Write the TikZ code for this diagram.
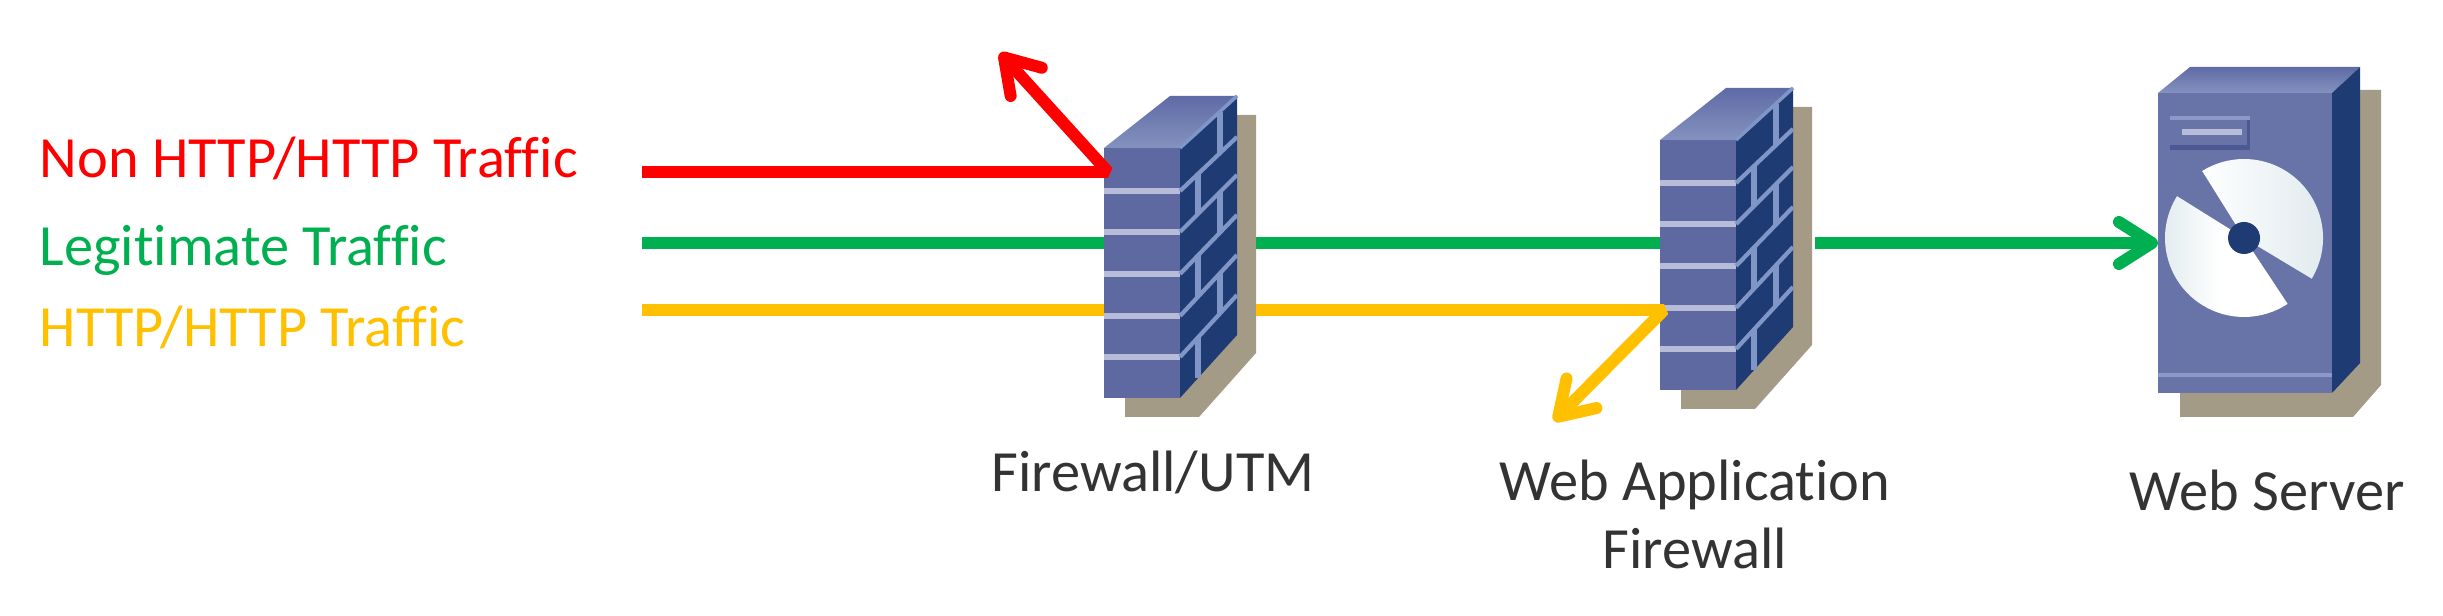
\documentclass[tikz,border=0pt]{standalone}
\usepackage{fontspec}
\setmainfont[Ligatures=NoCommon]{Carlito}
\usetikzlibrary{arrows.meta}
\definecolor{wallfront}{HTML}{5E69A1}
\definecolor{wallside}{HTML}{1F3B73}
\definecolor{walltop}{HTML}{8492BF}
\definecolor{walltopb}{HTML}{5F6BA5}
\definecolor{mortar}{HTML}{B7BDD8}
\definecolor{mortarb}{HTML}{7F96C6}
\definecolor{wallshadow}{HTML}{A39B85}
\definecolor{srvfront}{HTML}{6873A8}
\definecolor{srvline}{HTML}{8A9AC8}
\definecolor{srvdark}{HTML}{4C5894}
\definecolor{discb}{HTML}{DFE9ED}
\definecolor{trafred}{HTML}{FF0000}
\definecolor{trafgreen}{HTML}{00B050}
\definecolor{trafamber}{HTML}{FFC000}
\tikzset{
	lbl/.style={font=\fontsize{16.6pt}{20pt}\selectfont,inner sep=0pt,text=black!80},
	trafficline/.style={line width=3.4pt,line join=bevel},
	barb/.style={-{Straight Barb[round,length=3.3mm,width=4.2mm]}},
	boxoutline/.style={inner sep=0pt,outer sep=0pt},
	pics/brickwall/.style={code={
		\fill[wallshadow] (133,-33)--(152,-33)--(152,205)--(95,269)--(21,269)--(21,250)--(76,250)--cycle;
		\fill[wallfront] (0,0) rectangle (76,250);
		\shade[top color=walltopb,bottom color=walltop] (0,0)--(66,-52)--(133,-52)--(76,0)--cycle;
		\fill[wallside] (76,0)--(133,-52)--(133,187)--(76,250)--cycle;
		\foreach \ya/\yb in {43/-11,84/27,126/67,168/107,209/147}{
			\draw[mortar,line width=1.8pt] (0,\ya)--(76,\ya);
			\draw[mortarb,line width=1.2pt] (76,\ya)--(133,\yb);
		}
		\draw[mortarb,line width=1pt] (76,0)--(133,-52);
		\foreach \xa/\ya/\yb in {116/-36/5,94/26/66,116/44/85,94/107/149,116/125/165,94/189/230}{
			\draw[mortarb,line width=1.5pt] (\xa,\ya)--(\xa,\yb);
		}
	}}
}
\begin{document}
\begin{tikzpicture}[x=0.01cm,y=-0.01cm]
	\useasboundingbox (0,0) rectangle (2443,616);
	\fill[white] (0,0) rectangle (2443,616);

	% firewalls
	\pic at (1104,148) {brickwall};
	\pic at (1660,140) {brickwall};
	\node[boxoutline,minimum width=1.52cm,minimum height=3.21cm] (fw) at (1180,256.5) {};
	\node[boxoutline,minimum width=1.55cm,minimum height=3.22cm] (waf) at (1737.5,249) {};

	% server
	\fill[wallshadow] (2360,90)--(2381,90)--(2381,385)--(2353,417)--(2180,417)--(2180,393)--(2333,393)--cycle;
	\fill[srvfront] (2158,93) rectangle (2332,393);
	\shade[top color=walltopb,bottom color=walltop] (2158,93)--(2190,67)--(2360,67)--(2332,93)--cycle;
	\fill[wallside] (2332,93)--(2360,67)--(2360,363)--(2332,393)--cycle;
	\draw[srvline,line width=1.2pt] (2158,375)--(2332,375);
	\fill[srvdark] (2170,117) rectangle (2250,150);
	\fill[srvfront] (2170,117) rectangle (2247,145);
	\draw[srvline,line width=1pt] (2170,118)--(2250,118);
	\draw[mortar,line width=1.5pt] (2182,132)--(2242,132);
	\shade[left color=white,right color=discb] (2244,238)--++(31:79) arc[start angle=31,end angle=-122,radius=79]--cycle;
	\shade[left color=discb,right color=white,middle color=white] (2244,238)--++(-148:79) arc[start angle=-148,end angle=-303.5,radius=79]--cycle;
	\fill[wallside] (2244,238) circle (16);
	\node[boxoutline,minimum width=1.74cm,minimum height=3.5cm] (srv) at (2245,242) {};

	% traffic start points
	\coordinate (redstart) at (642,172);
	\coordinate (greenstart) at (642,243);
	\coordinate (amberstart) at (642,310);
	\coordinate (redhit) at (1108,170);
	\coordinate (redtip) at (1000,53);
	\coordinate (amberhit) at (1664,314);
	\coordinate (ambertip) at (1554,421);

	\draw[trafficline,trafred,barb] (redstart) -- (redstart -| redhit) -- (redtip);
	\draw[trafficline,trafgreen] (greenstart) -- (greenstart -| fw.west);
	\draw[trafficline,trafgreen] (greenstart -| fw.east) -- (greenstart -| waf.west);
	\draw[trafficline,trafgreen,barb] (greenstart -| waf.east) -- (greenstart -| srv.west);
	\draw[trafficline,trafamber] (amberstart) -- (amberstart -| fw.west);
	\draw[trafficline,trafamber,barb] (amberstart -| fw.east) -- (amberstart -| amberhit) -- (ambertip);

	\node[lbl,text=trafred,anchor=base west] (redlabel) at (39,178) {Non HTTP/HTTP Traffic};
	\node[lbl,text=trafgreen,anchor=base west] (greenlabel) at (39,266) {Legitimate Traffic};
	\node[lbl,text=trafamber,anchor=base west] (amberlabel) at (39,347) {HTTP/HTTP Traffic};
	\node[lbl,anchor=base] (fwlabel) at (1153,492) {Firewall/UTM};
	\node[lbl,anchor=base] (waflabel) at (1695,501) {Web Application};
	\node[lbl,anchor=base] (waflabelb) at (1695,568) {Firewall};
	\node[lbl,anchor=base] (srvlabel) at (2267,511) {Web Server};
\end{tikzpicture}
\end{document}
